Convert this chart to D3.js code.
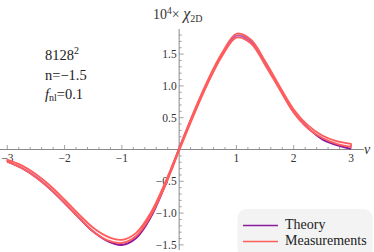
<!DOCTYPE html>
<html>
<head>
<meta charset="utf-8">
<script src="https://cdn.jsdelivr.net/npm/d3@7"></script>
<style>
  body { margin: 0; background: #fff; }
</style>
</head>
<body>
<svg id="chart" width="374" height="252"></svg>
<script>
// threshold nu
var nu = [-3, -2.75, -2.5, -2.25, -2, -1.75, -1.5, -1.25, -1, -0.75, -0.5, -0.25, 0,
          0.25, 0.5, 0.75, 1, 1.25, 1.5, 1.75, 2, 2.25, 2.5, 2.75, 3];
// 10^4 x chi_2D, theory curve
var theory = [-0.19, -0.29, -0.43, -0.62, -0.84, -1.07, -1.29, -1.44, -1.50, -1.39, -1.07, -0.57, 0.01,
              0.56, 1.06, 1.49, 1.79, 1.70, 1.36, 0.97, 0.59, 0.34, 0.16, 0.07, 0.01];
// measurements: upper and lower edge of the band
var measUpper = [-0.16, -0.25, -0.39, -0.57, -0.79, -1.02, -1.23, -1.37, -1.42, -1.31, -1.00, -0.53, 0.02,
                 0.58, 1.09, 1.52, 1.82, 1.73, 1.39, 1.00, 0.63, 0.38, 0.22, 0.13, 0.09];
var measLower = [-0.19, -0.29, -0.44, -0.62, -0.84, -1.07, -1.29, -1.43, -1.47, -1.36, -1.05, -0.58, -0.02,
                 0.53, 1.04, 1.47, 1.76, 1.67, 1.33, 0.95, 0.58, 0.33, 0.18, 0.09, 0.04];

var xTicks = [-3, -2, -1, 1, 2, 3];
var yTicks = [-1.5, -1.0, -0.5, 0.5, 1.0, 1.5];

var purple = "#8c1a9e", red = "#ff5c5c", axisCol = "#8a8a8a", textCol = "#333";
var serif = "'Liberation Serif', 'Times New Roman', serif";

var svg = d3.select("#chart").attr("font-family", serif);

var x = d3.scaleLinear().domain([-3, 3]).range([7.3, 351]);
var y = d3.scaleLinear().domain([-1.5, 1.5]).range([244.9, 54.1]);

var x0 = x(0), y0 = y(0);
var fmt = function(v) { return String(v).replace("-", "\u2212"); };
var fmtY = function(v) { return v.toFixed(1).replace("-", "\u2212"); };

// axes lines
svg.append("line").attr("x1", 0).attr("x2", 364).attr("y1", y0).attr("y2", y0)
  .attr("stroke", axisCol).attr("stroke-width", 1);
svg.append("line").attr("x1", x0).attr("x2", x0).attr("y1", 29).attr("y2", 250)
  .attr("stroke", axisCol).attr("stroke-width", 1);

// x ticks (major + minor every 0.2), pointing up
var xMinor = d3.range(-15, 16).map(function(i) { return i / 5; });
svg.selectAll(".xm").data(xMinor).enter().append("line")
  .attr("x1", function(d) { return x(d); }).attr("x2", function(d) { return x(d); })
  .attr("y1", y0).attr("y2", function(d) { return Math.abs(d - Math.round(d)) < 1e-6 ? y0 - 4.5 : y0 - 2.5; })
  .attr("stroke", axisCol).attr("stroke-width", 0.8);

svg.selectAll(".xl").data(xTicks).enter().append("text")
  .attr("x", function(d) { return x(d); }).attr("y", y0 + 12)
  .attr("text-anchor", "middle").attr("font-size", 11.5).attr("fill", textCol)
  .text(fmt);

// y ticks (major + minor every 0.1), pointing right
var yMinor = d3.range(-15, 19).map(function(i) { return i / 10; });
svg.selectAll(".ym").data(yMinor).enter().append("line")
  .attr("y1", function(d) { return y(d); }).attr("y2", function(d) { return y(d); })
  .attr("x1", x0).attr("x2", function(d) { return Math.abs(d * 2 - Math.round(d * 2)) < 1e-6 ? x0 + 4.5 : x0 + 2.5; })
  .attr("stroke", axisCol).attr("stroke-width", 0.8);

svg.selectAll(".yl").data(yTicks).enter().append("text")
  .attr("x", x0 - 2.5).attr("y", function(d) { return y(d) + 4; })
  .attr("text-anchor", "end").attr("font-size", 11.5).attr("fill", textCol)
  .text(fmtY);

// axis labels
var yl = svg.append("text").attr("x", 153).attr("y", 19).attr("font-size", 14).attr("fill", textCol);
yl.append("tspan").text("10");
yl.append("tspan").attr("dy", -5).attr("font-size", 9.5).text("4");
yl.append("tspan").attr("dy", 5).text("\u00d7 ");
yl.append("tspan").attr("font-style", "italic").attr("font-size", 16).text("\u03c7");
yl.append("tspan").attr("dy", 3).attr("font-size", 10).text("2D");

svg.append("text").attr("x", 364).attr("y", 154).attr("font-size", 14)
  .attr("font-style", "italic").attr("fill", textCol).text("\u03bd");

// annotations
var t1 = svg.append("text").attr("x", 45).attr("y", 60).attr("font-size", 14.5).attr("fill", "#222");
t1.append("tspan").text("8128");
t1.append("tspan").attr("dy", -6).attr("font-size", 10).text("2");
svg.append("text").attr("x", 45).attr("y", 80).attr("font-size", 14.5).attr("fill", "#222").text("n=\u22121.5");
var t3 = svg.append("text").attr("x", 45).attr("y", 99).attr("font-size", 14.5).attr("fill", "#222");
t3.append("tspan").attr("font-style", "italic").text("f");
t3.append("tspan").attr("dy", 2).attr("font-size", 10).text("nl");
t3.append("tspan").attr("dy", -2).text("=0.1");

// curves
var theoryLine = d3.line()
  .x(function(d, i) { return x(nu[i]); })
  .y(function(d) { return y(d); })
  .curve(d3.curveCatmullRom);

svg.append("path").datum(theory).attr("d", theoryLine)
  .attr("fill", "none").attr("stroke", purple).attr("stroke-width", 2);

var band = d3.area()
  .x(function(d, i) { return x(nu[i]); })
  .y0(function(d, i) { return y(measLower[i]); })
  .y1(function(d, i) { return y(measUpper[i]); })
  .curve(d3.curveCatmullRom);

svg.append("path").datum(nu).attr("d", band)
  .attr("fill", "rgba(255,215,215,0.35)").attr("stroke", red).attr("stroke-width", 1.8)
  .attr("stroke-linejoin", "round");

// legend
var lg = svg.append("g");
lg.append("rect").attr("x", 237.5).attr("y", 209).attr("width", 135).attr("height", 50)
  .attr("rx", 9).attr("fill", "#f3f3f3");
lg.append("line").attr("x1", 243).attr("x2", 278).attr("y1", 225.5).attr("y2", 225.5)
  .attr("stroke", purple).attr("stroke-width", 1.6);
lg.append("line").attr("x1", 243).attr("x2", 278).attr("y1", 241.5).attr("y2", 241.5)
  .attr("stroke", red).attr("stroke-width", 1.6);
lg.append("text").attr("x", 285).attr("y", 229).attr("font-size", 14).attr("fill", "#222").text("Theory");
lg.append("text").attr("x", 285).attr("y", 245).attr("font-size", 14).attr("fill", "#222").text("Measurements");
</script>
</body>
</html>
